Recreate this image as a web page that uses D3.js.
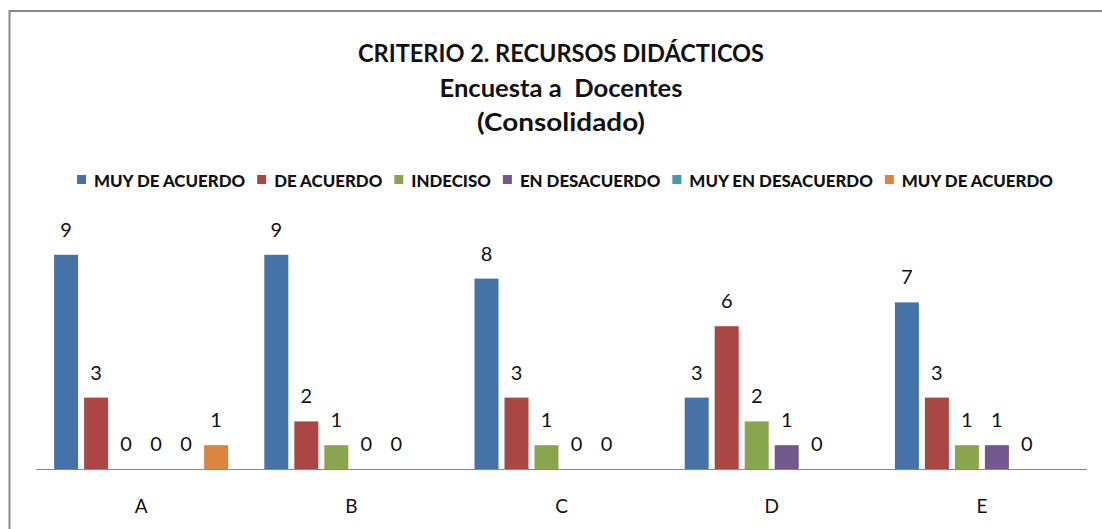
<!DOCTYPE html>
<html>
<head>
<meta charset="utf-8">
<script src="https://cdn.jsdelivr.net/npm/d3@7"></script>
<style>
  html, body { margin: 0; padding: 0; background: #fff; }
  svg { display: block; font-family: Lato, "Open Sans", sans-serif; }
</style>
</head>
<body>
<div id="chart"></div>
<script>
// Data
const categories = ["A", "B", "C", "D", "E"];
const seriesNames = ["MUY DE ACUERDO", "DE ACUERDO", "INDECISO", "EN DESACUERDO", "MUY EN DESACUERDO", "MUY DE ACUERDO"];
const muyDeAcuerdo = [9, 9, 8, 3, 7];
const deAcuerdo = [3, 2, 3, 6, 3];
const indeciso = [0, 1, 1, 2, 1];
const enDesacuerdo = [0, 0, 0, 1, 1];
const muyEnDesacuerdo = [0, 0, 0, 0, 0];
const muyDeAcuerdo2 = [1, null, null, null, null];
const seriesValues = [muyDeAcuerdo, deAcuerdo, indeciso, enDesacuerdo, muyEnDesacuerdo, muyDeAcuerdo2];
const colors = ["#4572A7", "#AA4643", "#89A54E", "#71588F", "#4198AF", "#DB843D"];
const titleLines = ["CRITERIO 2. RECURSOS DIDÁCTICOS", "Encuesta a  Docentes", "(Consolidado)"];

const width = 1102, height = 529;
const svg = d3.select("#chart").append("svg")
  .attr("width", width)
  .attr("height", height);

// chart frame (right and bottom edges fall outside the picture)
svg.append("rect")
  .attr("x", 9.5).attr("y", 11)
  .attr("width", 1120).attr("height", 540)
  .attr("fill", "#fff")
  .attr("stroke", "#888").attr("stroke-width", 2);

// title
const titleBase = [62, 97, 131];
const titleWidths = [406, 243, 168];
titleLines.forEach((t, i) => {
  svg.append("text")
    .attr("x", 561).attr("y", titleBase[i])
    .attr("text-anchor", "middle")
    .attr("font-size", 25)
    .attr("font-weight", "bold")
    .attr("fill", "#111")
    .style("white-space", "pre")
    .attr("textLength", titleWidths[i])
    .attr("lengthAdjust", "spacingAndGlyphs")
    .text(t);
});

// legend
const legend = svg.append("g");
const items = seriesNames.map((name, i) => {
  const g = legend.append("g");
  g.append("rect").attr("width", 9).attr("height", 9).attr("y", 175).attr("fill", colors[i]);
  const txt = g.append("text")
    .attr("y", 186.5)
    .attr("font-size", 17)
    .attr("font-weight", 900)
    .attr("fill", "#111")
    .text(name);
  return { g, txt, w: txt.node().getComputedTextLength() };
});
const legendStart = 77, legendEnd = 1053, sq = 17, gap = 12;
const k = (legendEnd - legendStart - items.length * sq - (items.length - 1) * gap) / d3.sum(items, d => d.w);
let lx = legendStart;
items.forEach(it => {
  it.g.select("rect").attr("x", lx);
  it.txt.attr("x", lx + sq)
    .attr("textLength", it.w * k)
    .attr("lengthAdjust", "spacingAndGlyphs");
  lx += sq + it.w * k + gap;
});

// scales
const x0 = d3.scaleBand().domain(categories).range([36, 1087]);
const bw = x0.bandwidth();
const x1 = d3.scaleBand().domain(d3.range(seriesNames.length))
  .range([bw / 2 - 87, bw / 2 + 87]).paddingInner(0.2);
const y = d3.scaleLinear().domain([0, 10]).range([469, 231]);

const groups = svg.append("g").selectAll("g")
  .data(categories)
  .join("g")
  .attr("transform", c => `translate(${x0(c)},0)`);

const cells = groups.selectAll("g")
  .data((c, ci) => seriesValues.map((vals, si) => ({ si, v: vals[ci] })).filter(d => d.v !== null))
  .join("g");

cells.append("rect")
  .attr("x", d => x1(d.si))
  .attr("width", x1.bandwidth())
  .attr("y", d => y(d.v))
  .attr("height", d => y(0) - y(d.v))
  .attr("fill", d => colors[d.si]);

cells.append("text")
  .attr("x", d => x1(d.si) + x1.bandwidth() / 2)
  .attr("y", d => y(d.v) - 18)
  .attr("text-anchor", "middle")
  .attr("font-size", 20)
  .attr("fill", "#111")
  .text(d => d.v);

// baseline
svg.append("line")
  .attr("x1", 36).attr("x2", 1087)
  .attr("y1", 469.5).attr("y2", 469.5)
  .attr("stroke", "#888").attr("stroke-width", 1.2);

// category labels
svg.append("g").selectAll("text")
  .data(categories)
  .join("text")
  .attr("x", c => x0(c) + bw / 2)
  .attr("y", 513)
  .attr("text-anchor", "middle")
  .attr("font-size", 19)
  .attr("fill", "#111")
  .text(c => c);
</script>
</body>
</html>
